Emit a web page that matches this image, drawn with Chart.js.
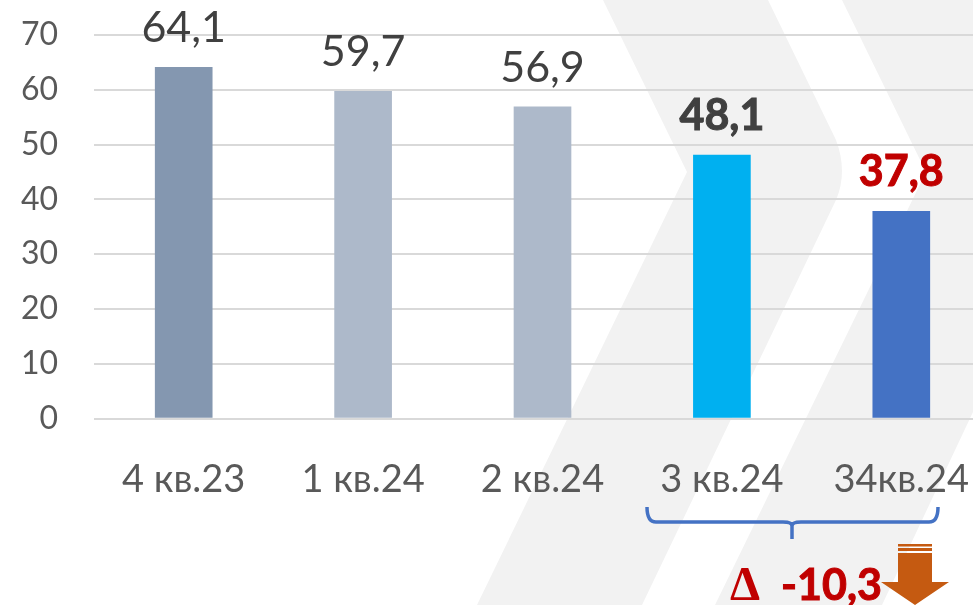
<!DOCTYPE html>
<html lang="ru">
<head>
<meta charset="utf-8">
<style>
    html, body { margin: 0; padding: 0; background: #fff; overflow: hidden; width: 973px; height: 605px; }
    #back, #front { position: absolute; left: 0; top: 0; }
    #myChart { position: absolute; left: 0; top: 0; }
</style>
<script src="https://cdn.jsdelivr.net/npm/chart.js@4"></script>
</head>
<body>
<!-- fond : chevrons gris -->
<svg id="back" width="973" height="605">
    <path fill="#f2f2f2" d="M603 0 L687 172 L477 605 L642 605 L836 200 Q848 172 836 140 L768 0 Z"/>
    <path fill="#f2f2f2" d="M842 0 L926 172 L715 605 L882 605 L973 412 L973 0 Z"/>
</svg>
<canvas id="myChart"></canvas>
<!-- accolade, flèche et écart -->
<svg id="front" width="973" height="605">
    <path fill="none" stroke="#4472c4" stroke-width="3.5" d="M647 507 Q647 522 656 522 L783 522 Q792 522 792 526 Q792 522 801 522 L929 522 Q938 522 938 507 M792 522 L792 539"/>
    <rect x="898" y="544" width="34" height="2.5" fill="#c55a11"/>
    <rect x="898" y="548" width="34" height="3" fill="#c55a11"/>
    <path fill="#c55a11" d="M898 553 L932 553 L932 582 L949 582 L915 605 L881 582 L898 582 Z"/>
    <text x="730" y="600" font-family="'Liberation Serif'" font-weight="bold" font-size="48" fill="#c00000">Δ</text>
    <text x="781" y="600" font-family="Lato" font-weight="bold" font-size="43" fill="#c00000" stroke="#c00000" stroke-width="1">-10,3</text>
</svg>
<script>
// Données du graphique
var categories = ['4 кв.23', '1 кв.24', '2 кв.24', '3 кв.24', '34кв.24'];
var values = [64.1, 59.7, 56.9, 48.1, 37.8];
var yTicks = [0, 10, 20, 30, 40, 50, 60, 70];
var barColors = ['#8497b0', '#adb9ca', '#adb9ca', '#00b0f0', '#4472c4'];
var labelColors = ['#404040', '#404040', '#404040', '#404040', '#c00000'];
var labelWeights = ['normal', 'normal', 'normal', 'bold', 'bold'];

// Étiquettes au-dessus des barres, virgule décimale
var valueLabels = {
    id: 'valueLabels',
    afterDatasetsDraw: function(chart) {
        var ctx = chart.ctx;
        ctx.save();
        ctx.textAlign = 'center';
        ctx.textBaseline = 'alphabetic';
        chart.getDatasetMeta(0).data.forEach(function(bar, i) {
            var text = values[i].toFixed(1).replace('.', ',');
            ctx.font = labelWeights[i] + ' 43px Lato';
            ctx.fillStyle = labelColors[i];
            ctx.fillText(text, bar.x, bar.y - 25);
            if (labelWeights[i] === 'bold') {
                ctx.strokeStyle = labelColors[i];
                ctx.lineWidth = 1;
                ctx.strokeText(text, bar.x, bar.y - 25);
            }
        });
        ctx.restore();
    }
};

var canvas = document.getElementById('myChart');
canvas.width = 991;
canvas.height = 605;
canvas.style.width = '991px';
canvas.style.height = '605px';

new Chart(canvas.getContext('2d'), {
    type: 'bar',
    data: {
        labels: categories,
        datasets: [{
            data: values,
            backgroundColor: barColors,
            barThickness: 57
        }]
    },
    options: {
        responsive: false,
        animation: false,
        devicePixelRatio: 1,
        layout: { padding: { top: 35, left: 0, right: 0, bottom: 0 } },
        plugins: { legend: { display: false }, tooltip: { enabled: false }, title: { display: false } },
        scales: {
            x: {
                afterFit: function(axis) {
                    axis.height = 186.5;
                    axis.paddingLeft = 0;
                    axis.paddingRight = 0;
                },
                grid: { display: false },
                border: { display: false },
                ticks: {
                    color: '#595959',
                    font: { family: 'Lato', size: 38 },
                    padding: 30,
                    maxRotation: 0,
                    autoSkip: false
                }
            },
            y: {
                min: 0,
                max: 70,
                afterFit: function(axis) {
                    axis.width = 94;
                    axis.paddingTop = 0;
                    axis.paddingBottom = 0;
                },
                afterBuildTicks: function(axis) {
                    axis.ticks = yTicks.map(function(v) { return { value: v }; });
                },
                grid: { color: '#d9d9d9', lineWidth: 2, drawTicks: false },
                border: { display: false },
                ticks: {
                    color: '#595959',
                    font: { family: 'Lato', size: 32 },
                    padding: 36
                }
            }
        }
    },
    plugins: [valueLabels]
});
</script>
</body>
</html>
